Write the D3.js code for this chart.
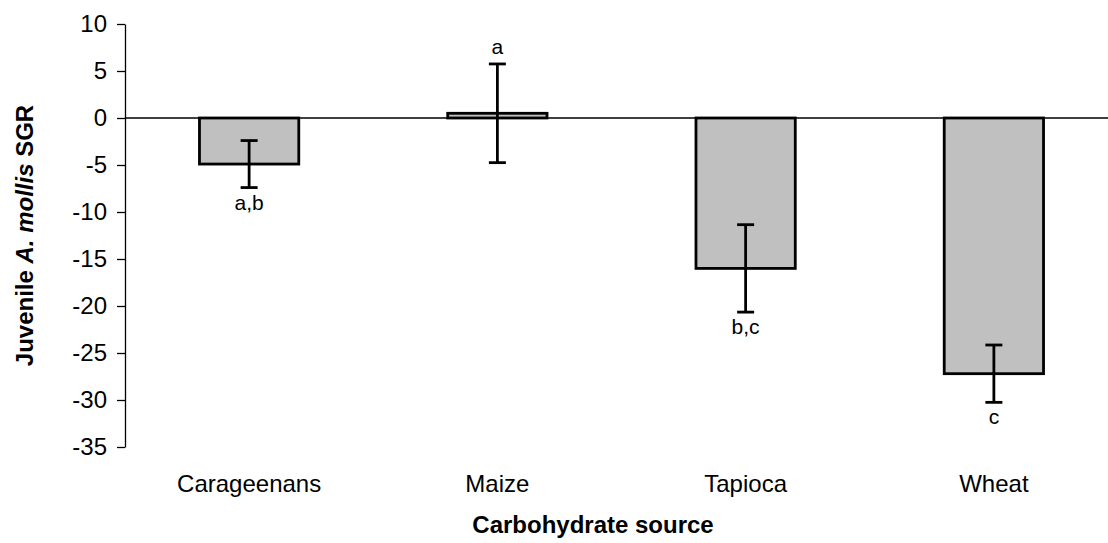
<!DOCTYPE html>
<html>
<head>
<meta charset="utf-8">
<script src="https://cdn.jsdelivr.net/npm/d3@7"></script>
<style>
  body { margin: 0; background: #fff; }
  svg { display: block; font-family: "Liberation Sans", Arial, sans-serif; }
</style>
</head>
<body>
<div id="chart"></div>
<script>
// data
var categories = ["Carageenans", "Maize", "Tapioca", "Wheat"];
var sgr = [-4.9, 0.5, -16.0, -27.2];
var errors = [2.5, 5.25, 4.65, 3.05];
var letters = ["a,b", "a", "b,c", "c"];
var yTicks = [10, 5, 0, -5, -10, -15, -20, -25, -30, -35];

var W = 1108, H = 543;
var plot = {left: 125, top: 24, bottom: 447, right: 1118};

var svg = d3.select("#chart").append("svg")
    .attr("width", W)
    .attr("height", H);

var x = d3.scaleBand()
    .domain(categories)
    .range([plot.left, plot.right])
    .paddingInner(0.6)
    .paddingOuter(0.3);

var y = d3.scaleLinear()
    .domain([-35, 10])
    .range([plot.bottom, plot.top]);

// y axis (plain hyphen for negatives, like the original)
var yAxis = d3.axisLeft(y)
    .tickValues(yTicks)
    .tickFormat(function(d) { return String(d); })
    .tickSize(8).tickSizeOuter(0).tickPadding(10);
var gy = svg.append("g")
    .attr("transform", "translate(" + plot.left + ",0)")
    .call(yAxis);
gy.select(".domain").attr("stroke", "#000").attr("stroke-width", 1.3);
gy.selectAll(".tick line").attr("stroke", "#000").attr("stroke-width", 1.3);
gy.selectAll(".tick text")
    .style("font-size", "24px")
    .attr("fill", "#000");

// zero line
svg.append("line")
    .attr("x1", plot.left).attr("x2", W)
    .attr("y1", y(0)).attr("y2", y(0))
    .attr("stroke", "#000")
    .attr("stroke-width", 1.5);

// bars
svg.selectAll(".bar")
    .data(categories)
  .enter().append("rect")
    .attr("class", "bar")
    .attr("x", function(d) { return x(d); })
    .attr("width", x.bandwidth())
    .attr("y", function(d, i) { return y(Math.max(0, sgr[i])); })
    .attr("height", function(d, i) { return Math.abs(y(sgr[i]) - y(0)); })
    .attr("fill", "#c0c0c0")
    .attr("stroke", "#000")
    .attr("stroke-width", 2.8);

// error bars
var cap = 8.5;
var eb = svg.selectAll(".err")
    .data(categories)
  .enter().append("g")
    .attr("class", "err")
    .attr("stroke", "#000")
    .attr("stroke-width", 2.8);

eb.append("line")
    .attr("x1", function(d) { return x(d) + x.bandwidth() / 2; })
    .attr("x2", function(d) { return x(d) + x.bandwidth() / 2; })
    .attr("y1", function(d, i) { return y(sgr[i] + errors[i]); })
    .attr("y2", function(d, i) { return y(sgr[i] - errors[i]); });

eb.append("line")
    .attr("x1", function(d) { return x(d) + x.bandwidth() / 2 - cap; })
    .attr("x2", function(d) { return x(d) + x.bandwidth() / 2 + cap; })
    .attr("y1", function(d, i) { return y(sgr[i] + errors[i]); })
    .attr("y2", function(d, i) { return y(sgr[i] + errors[i]); });

eb.append("line")
    .attr("x1", function(d) { return x(d) + x.bandwidth() / 2 - cap; })
    .attr("x2", function(d) { return x(d) + x.bandwidth() / 2 + cap; })
    .attr("y1", function(d, i) { return y(sgr[i] - errors[i]); })
    .attr("y2", function(d, i) { return y(sgr[i] - errors[i]); });

// significance letters (above the bar when positive)
svg.selectAll(".letter")
    .data(categories)
  .enter().append("text")
    .attr("class", "letter")
    .attr("x", function(d) { return x(d) + x.bandwidth() / 2; })
    .attr("y", function(d, i) {
      return sgr[i] > 0 ? y(sgr[i] + errors[i]) - 10 : y(sgr[i] - errors[i]) + 22;
    })
    .attr("text-anchor", "middle")
    .style("font-size", "21px")
    .text(function(d, i) { return letters[i]; });

// category labels
svg.selectAll(".cat")
    .data(categories)
  .enter().append("text")
    .attr("class", "cat")
    .attr("x", function(d) { return x(d) + x.bandwidth() / 2; })
    .attr("y", 492)
    .attr("text-anchor", "middle")
    .style("font-size", "24px")
    .text(function(d) { return d; });

// x axis title
svg.append("text")
    .attr("x", 593)
    .attr("y", 533)
    .attr("text-anchor", "middle")
    .style("font-size", "24px")
    .style("font-weight", "bold")
    .text("Carbohydrate source");

// y axis title
var yt = svg.append("text")
    .attr("transform", "translate(33," + ((plot.top + plot.bottom) / 2) + ") rotate(-90)")
    .attr("text-anchor", "middle")
    .style("font-size", "24px")
    .style("font-weight", "bold");
yt.append("tspan").text("Juvenile ");
yt.append("tspan").style("font-style", "italic").text("A. mollis");
yt.append("tspan").text(" SGR");
</script>
</body>
</html>
